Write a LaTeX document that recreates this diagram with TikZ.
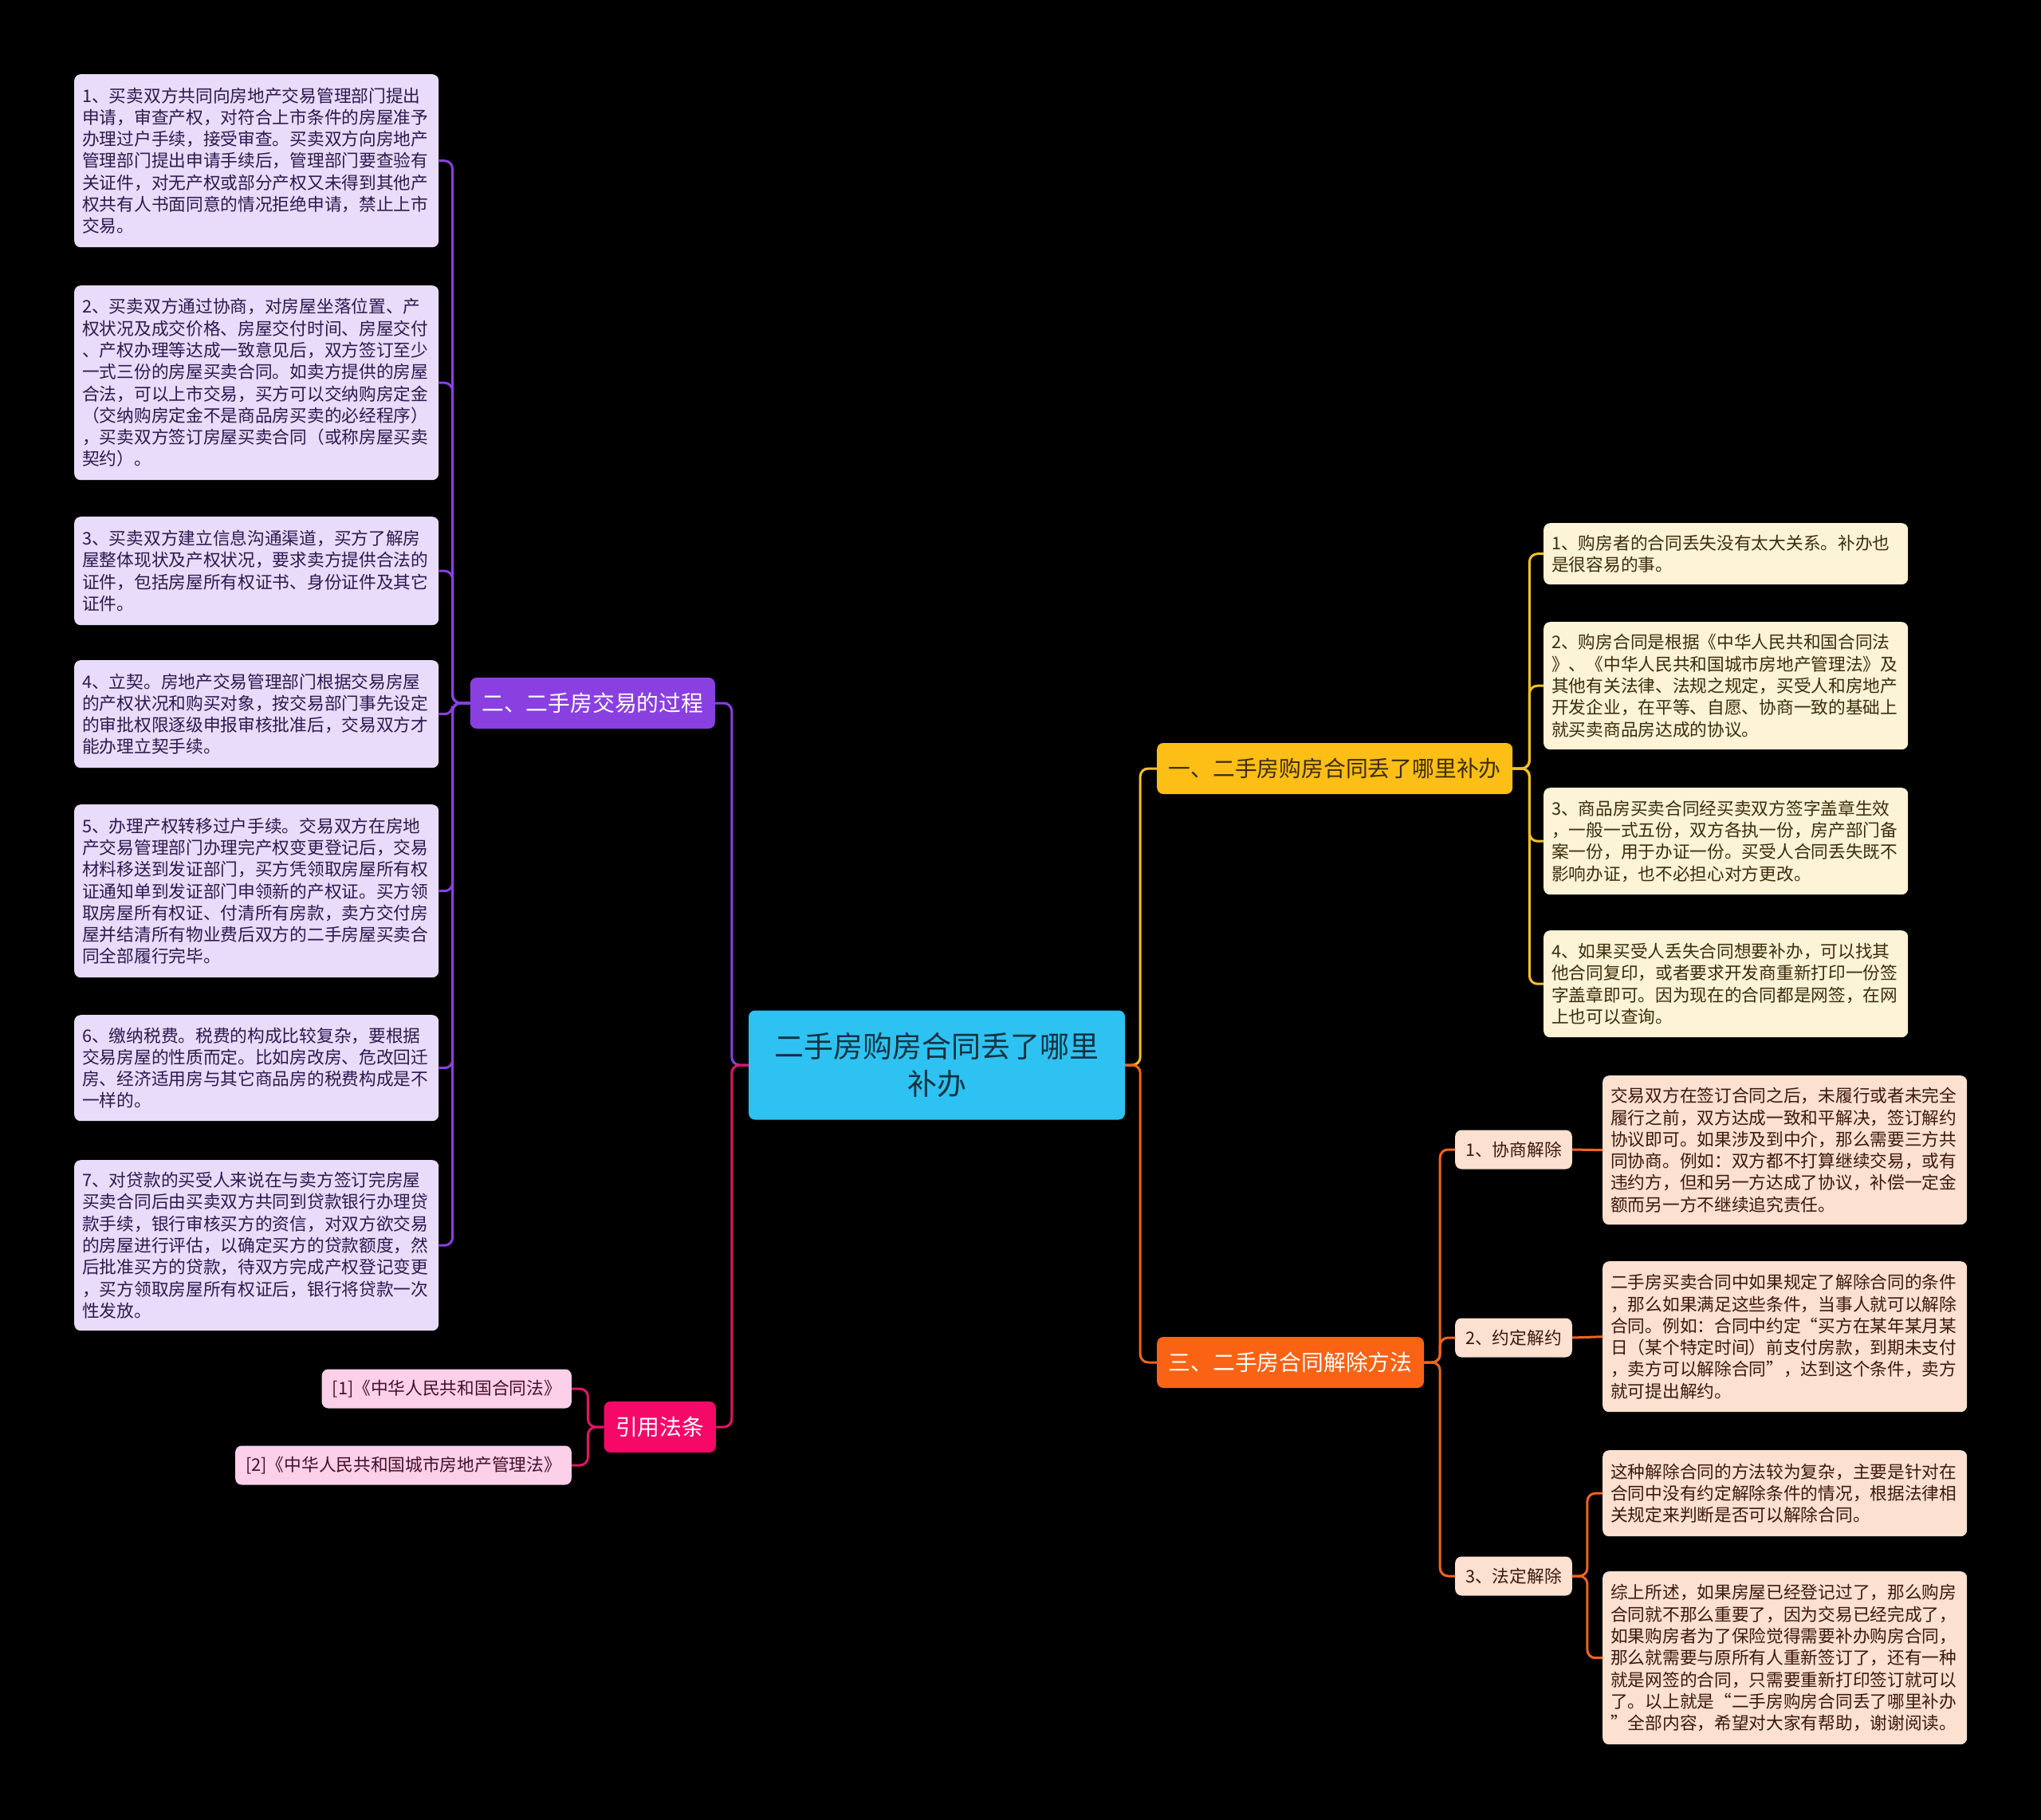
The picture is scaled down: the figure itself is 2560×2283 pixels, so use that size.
\documentclass[tikz,border=0pt]{standalone}
\usepackage{fontspec}
\setmainfont{Noto Sans CJK SC}
\usepackage{tikz}
\definecolor{mybg}{RGB}{0,0,0}
\definecolor{mycyan}{RGB}{46,194,242}
\definecolor{cyandark}{RGB}{20,50,65}
\definecolor{mypurple}{RGB}{138,64,224}
\definecolor{hdrpurple}{RGB}{232,220,250}
\definecolor{txtpurple}{RGB}{45,25,80}
\definecolor{myyellow}{RGB}{253,190,22}
\definecolor{lnyellow}{RGB}{245,192,40}
\definecolor{hdryellow}{RGB}{253,243,214}
\definecolor{txtyellow}{RGB}{60,45,10}
\definecolor{myorange}{RGB}{250,98,20}
\definecolor{lnorange}{RGB}{240,100,30}
\definecolor{hdrorange}{RGB}{252,224,208}
\definecolor{txtorange}{RGB}{60,25,10}
\definecolor{mypink}{RGB}{246,8,104}
\definecolor{lnpink}{RGB}{225,20,105}
\definecolor{hdrpink}{RGB}{252,208,232}
\definecolor{txtpink}{RGB}{70,15,40}
\tikzset{
  ctrbox/.style={rectangle, fill=mycyan, text=cyandark, rounded corners=8pt,
    font=\fontsize{37pt}{47pt}\selectfont, align=center, inner sep=0pt},
  branchbox/.style={rectangle, rounded corners=8pt, text=white,
    font=\fontsize{27.8pt}{34pt}\selectfont, inner xsep=14.5pt, inner ysep=0pt,
    minimum height=64pt},
  leafbox/.style={rectangle, rounded corners=8pt, anchor=north west,
    font=\fontsize{21.7pt}{27.3pt}\selectfont, text width=437pt, align=left,
    inner xsep=10pt, inner ysep=0pt},
  tagbox/.style={rectangle, rounded corners=8pt,
    font=\fontsize{21.7pt}{27.3pt}\selectfont, inner xsep=13pt, inner ysep=0pt,
    minimum height=49pt},
  pleaf/.style={leafbox, fill=hdrpurple, text=txtpurple},
  yleaf/.style={leafbox, fill=hdryellow, text=txtyellow},
  oleaf/.style={leafbox, fill=hdrorange, text=txtorange},
  link/.style={line width=3pt, rounded corners=10pt},
  plink/.style={link, draw=mypurple},
  ylink/.style={link, draw=lnyellow},
  olink/.style={link, draw=lnorange},
  pklink/.style={link, draw=lnpink}
}

\begin{document}
\begin{tikzpicture}[x=1pt, y=-1pt]
  \fill[mybg] (0,0) rectangle (2560,2283);
  \useasboundingbox (0,0) rectangle (2560,2283);

  % centre topic
  \node[ctrbox, minimum width=472pt, minimum height=137pt] (ctr) at (1175,1336) {二手房购房合同丢了哪里\\补办};

  % main branches
  \node[branchbox, fill=mypurple, anchor=east] (b2) at (897,882) {二、二手房交易的过程};
  \node[branchbox, fill=mypink, anchor=east] (yy) at (898,1790) {引用法条};
  \node[branchbox, fill=myyellow, text=txtyellow, anchor=west] (b1) at (1451,964) {一、二手房购房合同丢了哪里补办};
  \node[branchbox, fill=myorange, anchor=west] (b3) at (1451,1709) {三、二手房合同解除方法};

  % trading steps (left)
  \node[pleaf, minimum height=217pt] (L1) at (93,93) {1、买卖双方共同向房地产交易管理部门提出\\申请，审查产权，对符合上市条件的房屋准予\\办理过户手续，接受审查。买卖双方向房地产\\管理部门提出申请手续后，管理部门要查验有\\关证件，对无产权或部分产权又未得到其他产\\权共有人书面同意的情况拒绝申请，禁止上市\\交易。};
  \node[pleaf, minimum height=244pt] (L2) at (93,358) {2、买卖双方通过协商，对房屋坐落位置、产\\权状况及成交价格、房屋交付时间、房屋交付\\、产权办理等达成一致意见后，双方签订至少\\一式三份的房屋买卖合同。如卖方提供的房屋\\合法，可以上市交易，买方可以交纳购房定金\\（交纳购房定金不是商品房买卖的必经程序）\\，买卖双方签订房屋买卖合同（或称房屋买卖\\契约）。};
  \node[pleaf, minimum height=136pt] (L3) at (93,648) {3、买卖双方建立信息沟通渠道，买方了解房\\屋整体现状及产权状况，要求卖方提供合法的\\证件，包括房屋所有权证书、身份证件及其它\\证件。};
  \node[pleaf, minimum height=135pt] (L4) at (93,828) {4、立契。房地产交易管理部门根据交易房屋\\的产权状况和购买对象，按交易部门事先设定\\的审批权限逐级申报审核批准后，交易双方才\\能办理立契手续。};
  \node[pleaf, minimum height=217pt] (L5) at (93,1009) {5、办理产权转移过户手续。交易双方在房地\\产交易管理部门办理完产权变更登记后，交易\\材料移送到发证部门，买方凭领取房屋所有权\\证通知单到发证部门申领新的产权证。买方领\\取房屋所有权证、付清所有房款，卖方交付房\\屋并结清所有物业费后双方的二手房屋买卖合\\同全部履行完毕。};
  \node[pleaf, minimum height=133pt] (L6) at (93,1273) {6、缴纳税费。税费的构成比较复杂，要根据\\交易房屋的性质而定。比如房改房、危改回迁\\房、经济适用房与其它商品房的税费构成是不\\一样的。};
  \node[pleaf, minimum height=214pt] (L7) at (93,1455) {7、对贷款的买受人来说在与卖方签订完房屋\\买卖合同后由买卖双方共同到贷款银行办理贷\\款手续，银行审核买方的资信，对双方欲交易\\的房屋进行评估，以确定买方的贷款额度，然\\后批准买方的贷款，待双方完成产权登记变更\\，买方领取房屋所有权证后，银行将贷款一次\\性发放。};

  % cited laws
  \node[tagbox, fill=hdrpink, text=txtpink, anchor=east] (R1) at (717,1742) {[1]《中华人民共和国合同法》};
  \node[tagbox, fill=hdrpink, text=txtpink, anchor=east] (R2) at (717,1838) {[2]《中华人民共和国城市房地产管理法》};

  % lost contract (right, top)
  \node[yleaf, minimum height=77pt] (Y1) at (1936,656) {1、购房者的合同丢失没有太大关系。补办也\\是很容易的事。};
  \node[yleaf, minimum height=160pt] (Y2) at (1936,780) {2、购房合同是根据《中华人民共和国合同法\\》、《中华人民共和国城市房地产管理法》及\\其他有关法律、法规之规定，买受人和房地产\\开发企业，在平等、自愿、协商一致的基础上\\就买卖商品房达成的协议。};
  \node[yleaf, minimum height=134pt] (Y3) at (1936,988) {3、商品房买卖合同经买卖双方签字盖章生效\\，一般一式五份，双方各执一份，房产部门备\\案一份，用于办证一份。买受人合同丢失既不\\影响办证，也不必担心对方更改。};
  \node[yleaf, minimum height=134pt] (Y4) at (1936,1167) {4、如果买受人丢失合同想要补办，可以找其\\他合同复印，或者要求开发商重新打印一份签\\字盖章即可。因为现在的合同都是网签，在网\\上也可以查询。};

  % ways to cancel (right, bottom)
  \node[tagbox, fill=hdrorange, text=txtorange, anchor=west] (S1) at (1825,1442) {1、协商解除};
  \node[tagbox, fill=hdrorange, text=txtorange, anchor=west] (S2) at (1825,1678) {2、约定解约};
  \node[tagbox, fill=hdrorange, text=txtorange, anchor=west] (S3) at (1825,1977) {3、法定解除};
  \node[oleaf, minimum height=187pt] (O1) at (2010,1349) {交易双方在签订合同之后，未履行或者未完全\\履行之前，双方达成一致和平解决，签订解约\\协议即可。如果涉及到中介，那么需要三方共\\同协商。例如：双方都不打算继续交易，或有\\违约方，但和另一方达成了协议，补偿一定金\\额而另一方不继续追究责任。};
  \node[oleaf, minimum height=189pt] (O2) at (2010,1582) {二手房买卖合同中如果规定了解除合同的条件\\，那么如果满足这些条件，当事人就可以解除\\合同。例如：合同中约定“买方在某年某月某\\日（某个特定时间）前支付房款，到期未支付\\，卖方可以解除合同”，达到这个条件，卖方\\就可提出解约。};
  \node[oleaf, minimum height=108pt] (O3) at (2010,1819) {这种解除合同的方法较为复杂，主要是针对在\\合同中没有约定解除条件的情况，根据法律相\\关规定来判断是否可以解除合同。};
  \node[oleaf, minimum height=217pt] (O4) at (2010,1971) {综上所述，如果房屋已经登记过了，那么购房\\合同就不那么重要了，因为交易已经完成了，\\如果购房者为了保险觉得需要补办购房合同，\\那么就需要与原所有人重新签订了，还有一种\\就是网签的合同，只需要重新打印签订就可以\\了。以上就是“二手房购房合同丢了哪里补办\\”全部内容，希望对大家有帮助，谢谢阅读。};

  % connectors
  \draw[plink] (ctr.west) -- ++(-21,0) |- (b2.east);
  \draw[pklink] (ctr.west) -- ++(-21,0) |- (yy.east);
  \draw[ylink] (ctr.east) -- ++(19,0) |- (b1.west);
  \draw[olink] (ctr.east) -- ++(19,0) |- (b3.west);
  \foreach \i in {1,...,7}
    \draw[plink] (b2.west) -- ++(-22,0) |- (L\i.east);
  \foreach \i in {1,2}
    \draw[pklink] (yy.west) -- ++(-20,0) |- (R\i.east);
  \foreach \i in {1,...,4}
    \draw[ylink] (b1.east) -- ++(21,0) |- (Y\i.west);
  \foreach \i in {1,2,3}
    \draw[olink] (b3.east) -- ++(20,0) |- (S\i.west);
  \draw[olink] (S1.east) -- (O1.west);
  \draw[olink] (S2.east) -- (O2.west);
  \draw[olink] (S3.east) -- ++(19,0) |- (O3.west);
  \draw[olink] (S3.east) -- ++(19,0) |- (O4.west);
\end{tikzpicture}
\end{document}
